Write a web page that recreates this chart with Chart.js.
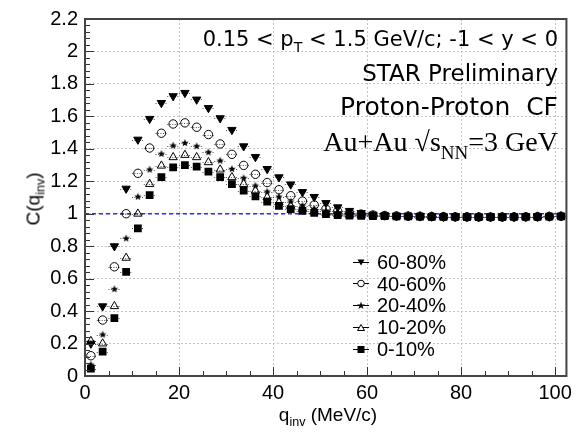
<!DOCTYPE html>
<html>
<head>
<meta charset="utf-8">
<script src="https://cdn.jsdelivr.net/npm/chart.js@4.4.1/dist/chart.umd.min.js"></script>
<style>
html,body{margin:0;padding:0;background:#fff;}
#wrap{position:relative;width:577px;height:433px;overflow:hidden;font-family:"Liberation Sans",Arial,sans-serif;color:#000;}
#c{position:absolute;left:0;top:0;}
.note{position:absolute;right:19px;white-space:nowrap;line-height:1;font-family:"DejaVu Sans",sans-serif;}
.note sub{font-size:0.68em;vertical-align:-0.42em;line-height:0;}
.serif{font-family:"Liberation Serif","Times New Roman",serif;}
.axt{position:absolute;white-space:nowrap;line-height:1;font-size:19px;}
.axt sub{font-size:0.66em;vertical-align:-0.4em;line-height:0;}
.lg{position:absolute;left:352px;height:22px;display:flex;align-items:center;font-size:20px;line-height:1;}
.lg svg{margin-right:7px;}
</style>
</head>
<body>
<div id="wrap">
  <canvas id="c" width="577" height="433"></canvas>
  <div class="note" style="top:29px;font-size:21px;">0.15 &lt; p<sub>T</sub> &lt; 1.5 GeV/c; -1 &lt; y &lt; 0</div>
  <div class="note" style="top:62px;font-size:23px;">STAR Preliminary</div>
  <div class="note" style="top:94px;font-size:25px;">Proton-Proton&nbsp; CF</div>
  <div class="note serif" style="top:128px;font-size:28px;">Au+Au √s<sub>NN</sub>=3 GeV</div>
  <div class="axt" style="left:328px;top:405px;transform:translateX(-50%);">q<sub>inv</sub> (MeV/c)</div>
  <div class="axt" style="left:33px;top:199px;transform:translate(-50%,-50%) rotate(-90deg);">C(q<sub>inv</sub>)</div>
  <div id="legend"></div>
</div>
<script>
// q_inv bin centres (MeV/c), 2.5 MeV/c bins
const qBins = [1.25, 3.75, 6.25, 8.75, 11.25, 13.75, 16.25, 18.75, 21.25, 23.75,
  26.25, 28.75, 31.25, 33.75, 36.25, 38.75, 41.25, 43.75, 46.25, 48.75,
  51.25, 53.75, 56.25, 58.75, 61.25, 63.75, 66.25, 68.75, 71.25, 73.75,
  76.25, 78.75, 81.25, 83.75, 86.25, 88.75, 91.25, 93.75, 96.25, 98.75, 101.25];
const binHalf = 1.25;

// C(q_inv) per centrality class
const c6080 = [0.20, 0.43, 0.80, 1.155, 1.457, 1.585, 1.683, 1.725, 1.745, 1.704,
  1.652, 1.589, 1.517, 1.416, 1.350, 1.276, 1.225, 1.181, 1.134, 1.104,
  1.066, 1.040, 1.018, 1.005, 0.995, 0.990, 0.987, 0.985, 0.984, 0.983,
  0.982, 0.981, 0.980, 0.980, 0.979, 0.980, 0.980, 0.981, 0.982, 0.983, 0.985];
const c4060 = [0.125, 0.345, 0.673, 1.000, 1.249, 1.405, 1.496, 1.553, 1.560, 1.533,
  1.488, 1.430, 1.366, 1.298, 1.243, 1.192, 1.148, 1.111, 1.078, 1.054,
  1.029, 1.015, 1.005, 0.998, 0.992, 0.989, 0.986, 0.985, 0.984, 0.983,
  0.982, 0.981, 0.981, 0.980, 0.980, 0.980, 0.981, 0.981, 0.982, 0.983, 0.984];
const c2040 = [0.070, 0.255, 0.535, 0.848, 1.105, 1.272, 1.369, 1.420, 1.436, 1.416,
  1.379, 1.327, 1.276, 1.220, 1.173, 1.136, 1.105, 1.075, 1.050, 1.030,
  1.015, 1.005, 0.998, 0.993, 0.990, 0.987, 0.985, 0.984, 0.983, 0.982,
  0.981, 0.980, 0.980, 0.979, 0.979, 0.980, 0.980, 0.981, 0.982, 0.983, 0.985];
const c1020 = [0.215, 0.200, 0.430, 0.728, 1.000, 1.183, 1.296, 1.348, 1.362, 1.348,
  1.317, 1.272, 1.225, 1.183, 1.142, 1.101, 1.070, 1.048, 1.030, 1.015,
  1.005, 0.998, 0.993, 0.990, 0.988, 0.986, 0.985, 0.984, 0.983, 0.982,
  0.981, 0.980, 0.980, 0.979, 0.979, 0.980, 0.980, 0.981, 0.982, 0.983, 0.984];
const c0010 = [0.045, 0.150, 0.356, 0.642, 0.910, 1.115, 1.225, 1.286, 1.300, 1.290,
  1.259, 1.225, 1.183, 1.142, 1.107, 1.074, 1.049, 1.029, 1.017, 1.005,
  0.998, 0.992, 0.989, 0.987, 0.986, 0.985, 0.984, 0.983, 0.982, 0.981,
  0.980, 0.980, 0.979, 0.979, 0.979, 0.979, 0.980, 0.980, 0.981, 0.982, 0.984];

const legendLabels = ['60-80%', '40-60%', '20-40%', '10-20%', '0-10%'];
const xTickValues = [0, 20, 40, 60, 80, 100];
const yTickValues = [0, 0.2, 0.4, 0.6, 0.8, 1, 1.2, 1.4, 1.6, 1.8, 2, 2.2];

// filled 5-point star as a point image
function starImg(r){
  const s = Math.ceil(r*2+2);
  const c = document.createElement('canvas'); c.width = s; c.height = s;
  const g = c.getContext('2d');
  g.beginPath();
  for(let i=0;i<10;i++){
    const rr = i%2 ? r*0.42 : r;
    const a = -Math.PI/2 + i*Math.PI/5;
    g.lineTo(s/2 + rr*Math.cos(a), s/2 + rr*Math.sin(a));
  }
  g.closePath(); g.fillStyle = '#000'; g.fill();
  return c;
}

function pts(vals){ return qBins.map((q,i)=>({x:q, y:vals[i]})); }

const datasets = [
  {label:legendLabels[0], data:pts(c6080), pointStyle:'triangle', pointRotation:180, pointRadius:4.8,
   backgroundColor:'#000', borderColor:'#000', borderWidth:1, order:5},
  {label:legendLabels[1], data:pts(c4060), pointStyle:'circle', pointRadius:4.2,
   backgroundColor:'rgba(0,0,0,0)', borderColor:'#000', borderWidth:1, order:4},
  {label:legendLabels[2], data:pts(c2040), pointStyle:starImg(4), pointRadius:5,
   backgroundColor:'#000', borderColor:'#000', borderWidth:0, order:3},
  {label:legendLabels[3], data:pts(c1020), pointStyle:'triangle', pointRadius:4.8,
   backgroundColor:'rgba(0,0,0,0)', borderColor:'#000', borderWidth:1, order:2},
  {label:legendLabels[4], data:pts(c0010), pointStyle:'rect', pointRadius:5.5,
   backgroundColor:'#000', borderColor:'#000', borderWidth:0, order:1}
];

// reference line, x error bars, frame and inward ticks (ROOT style)
const rootStyle = {
  id:'rootStyle',
  beforeDatasetsDraw(chart){
    const {ctx, chartArea:a, scales:{x, y}} = chart;
    ctx.save();
    ctx.strokeStyle = '#2b2bff'; ctx.lineWidth = 1.5; ctx.setLineDash([4,3]);
    const y1 = y.getPixelForValue(1);
    ctx.beginPath(); ctx.moveTo(a.left, y1); ctx.lineTo(a.right, y1); ctx.stroke();
    ctx.strokeStyle = '#555'; ctx.lineWidth = 1; ctx.setLineDash([1,1.5]);
    chart.data.datasets.forEach(ds=>{
      ds.data.forEach(p=>{
        const py = Math.round(y.getPixelForValue(p.y)) + 0.5;
        ctx.beginPath();
        ctx.moveTo(x.getPixelForValue(p.x-binHalf), py);
        ctx.lineTo(Math.min(a.right, x.getPixelForValue(p.x+binHalf)), py);
        ctx.stroke();
      });
    });
    ctx.restore();
  },
  afterDatasetsDraw(chart){
    const {ctx, chartArea:a, scales:{x, y}} = chart;
    ctx.save();
    ctx.strokeStyle = '#333'; ctx.lineWidth = 1;
    ctx.beginPath();
    for(let i=0;i<=20;i++){
      const px = Math.round(x.getPixelForValue(i*5)) + 0.5;
      const len = i%4===0 ? 9 : 5;
      ctx.moveTo(px, a.bottom); ctx.lineTo(px, a.bottom-len);
    }
    for(let i=0;i<=55;i++){
      const py = Math.round(y.getPixelForValue(i*0.04)) + 0.5;
      const len = i%5===0 ? 9 : 5;
      ctx.moveTo(a.left, py); ctx.lineTo(a.left+len, py);
    }
    ctx.stroke();
    ctx.strokeStyle = '#444'; ctx.lineWidth = 2;
    ctx.strokeRect(a.left, a.top, a.right-a.left, a.bottom-a.top);
    ctx.restore();
  }
};

new Chart(document.getElementById('c'), {
  type:'scatter',
  data:{datasets},
  options:{
    responsive:false, animation:false, events:[], devicePixelRatio:1,
    layout:{padding:{left:0, right:7, top:19, bottom:0}},
    plugins:{legend:{display:false}, tooltip:{enabled:false}},
    scales:{
      x:{
        type:'linear', min:0, max:102.4,
        afterBuildTicks: s => { s.ticks = xTickValues.map(v=>({value:v})); },
        afterFit: s => { s.height = 57; },
        grid:{color:'#c4c4c4', lineWidth:1, drawTicks:false},
        border:{display:false, dash:[2,2]},
        ticks:{padding:5, color:'#000', font:{family:'"Liberation Sans", Arial, sans-serif', size:20}, maxRotation:0}
      },
      y:{
        type:'linear', min:0, max:2.2,
        afterBuildTicks: s => { s.ticks = yTickValues.map(v=>({value:v})); },
        afterFit: s => { s.width = 85; },
        grid:{color:'#c4c4c4', lineWidth:1, drawTicks:false},
        border:{display:false, dash:[2,2]},
        ticks:{padding:7, color:'#000', font:{family:'"Liberation Sans", Arial, sans-serif', size:20},
          callback: v => String(Math.round(v*10)/10)}
      }
    }
  },
  plugins:[rootStyle]
});

// legend (inside the frame, lower right)
const legendMarks = [
  '<polygon points="5.5,3.5 12.5,3.5 9,9.5" fill="#000"/>',
  '<circle cx="9" cy="6.5" r="3.3" fill="#fff" stroke="#000" stroke-width="1"/>',
  '<polygon points="9,2.5 10,5.4 13,5.4 10.6,7.2 11.5,10.1 9,8.3 6.5,10.1 7.4,7.2 5,5.4 8,5.4" fill="#000"/>',
  '<polygon points="5.5,9.5 12.5,9.5 9,3.5" fill="#fff" stroke="#000" stroke-width="1"/>',
  '<rect x="5.5" y="3" width="7" height="7" fill="#000"/>'
];
const legendY = [262, 283.5, 305, 327, 349];
document.getElementById('legend').innerHTML = legendLabels.map((l,i)=>`
  <div class="lg" style="top:${legendY[i]-11}px">
    <svg width="18" height="13" viewBox="0 0 18 13"><line x1="1" y1="6.5" x2="17" y2="6.5" stroke="#000" stroke-width="1"/>${legendMarks[i]}</svg>${l}
  </div>`).join('');
</script>
</body>
</html>
